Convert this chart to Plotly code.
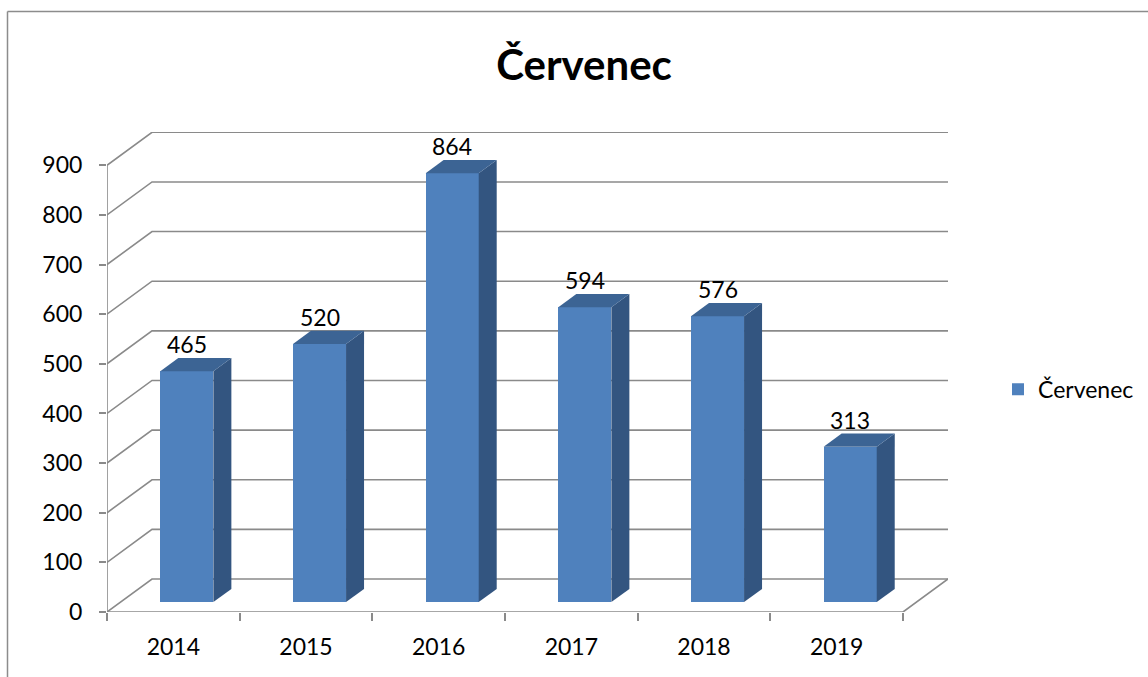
import plotly.graph_objects as go

# ---- data ----
years = ["2014", "2015", "2016", "2017", "2018", "2019"]
values = [465, 520, 864, 594, 576, 313]
series_name = "Červenec"
title_text = "Červenec"
y_ticks = [0, 100, 200, 300, 400, 500, 600, 700, 800, 900]

# ---- geometry (3D look) ----
W, H = 1148, 677
L, R, T, B = 107, 200, 132, 65
plot_w = W - L - R
plot_h = H - T - B
PX_PER_CAT = 132.67
DXu = 45 / PX_PER_CAT          # depth in category units
x_max = -0.5 + plot_w / PX_PER_CAT
Y_PX_PER_UNIT = 446.7 / 900
y_max = plot_h / Y_PX_PER_UNIT
DYu = 33 / Y_PX_PER_UNIT        # depth in value units
FRONT = 0.3                     # bar front depth fraction
DEPTH = 0.4                     # bar depth fraction
BAR_W = 0.4

FRONT_C = "#4f81bd"
TOP_C = "#3c6494"
SIDE_C = "#335580"
GRID_C = "#8a8a8a"
FONT = "Lato"

n = len(years)
xs = list(range(n))
base = FRONT * DYu
shift = FRONT * DXu

fig = go.Figure()

shapes = []
# back wall gridlines + diagonal side lines
for v in y_ticks:
    shapes.append(dict(type="path", xref="x", yref="y",
                       path=f"M {-0.5},{v} L {-0.5+DXu},{v+DYu} L {x_max},{v+DYu}",
                       line=dict(color=GRID_C, width=1.6), layer="below"))
# floor front edge and right diagonal
shapes.append(dict(type="path", xref="x", yref="y",
                   path=f"M {-0.5},0 L {n-0.5},0 L {n-0.5+DXu},{DYu}",
                   line=dict(color=GRID_C, width=1.6), layer="below"))
# y axis line
shapes.append(dict(type="line", xref="x", yref="y", x0=-0.5, x1=-0.5, y0=0, y1=y_ticks[-1],
                   line=dict(color=GRID_C, width=1.6), layer="below"))

# bar side and top faces
for i, v in enumerate(values):
    xl = i - BAR_W / 2 + shift
    xr = xl + BAR_W
    y0 = base
    y1 = base + v
    dx = DEPTH * DXu
    dy = DEPTH * DYu
    shapes.append(dict(type="path", xref="x", yref="y",
                       path=f"M {xr},{y0} L {xr},{y1} L {xr+dx},{y1+dy} L {xr+dx},{y0+dy} Z",
                       fillcolor=SIDE_C, line=dict(width=0), layer="above"))
    shapes.append(dict(type="path", xref="x", yref="y",
                       path=f"M {xl},{y1} L {xr},{y1} L {xr+dx},{y1+dy} L {xl+dx},{y1+dy} Z",
                       fillcolor=TOP_C, line=dict(width=0), layer="above"))

# outer frame
fx = (7.5 - L) / plot_w
fy = 1 + (T - 11.5) / plot_h
shapes.append(dict(type="line", xref="paper", yref="paper",
                   x0=fx, x1=fx, y0=-(B + 5) / plot_h, y1=fy,
                   line=dict(color="#8c8c8c", width=1.5)))
shapes.append(dict(type="line", xref="paper", yref="paper",
                   x0=fx, x1=(W + 5 - L) / plot_w, y0=fy, y1=fy,
                   line=dict(color="#8c8c8c", width=1.5)))

fig.add_trace(go.Bar(
    x=xs, y=values, base=base, width=BAR_W, offset=-BAR_W / 2 + shift,
    marker=dict(color=FRONT_C, line=dict(width=0)),
    name=series_name, showlegend=True, hoverinfo="skip",
))

annotations = []
for i, v in enumerate(values):
    annotations.append(dict(x=i + shift, y=base + v + DEPTH * DYu, xref="x", yref="y",
                            text=str(v), showarrow=False, yanchor="bottom",
                            font=dict(family=FONT, size=23, color="black"), yshift=-2))

fig.update_layout(
    width=W, height=H,
    margin=dict(l=L, r=R, t=T, b=B, pad=0, autoexpand=False),
    paper_bgcolor="white", plot_bgcolor="white",
    font=dict(family=FONT, size=23, color="black"),
    title=dict(text=f"<b>{title_text}</b>", x=584 / W, xanchor="center",
               y=1 - 65 / H, yanchor="middle", xref="container", yref="container",
               font=dict(family=FONT, size=42, color="black")),
    xaxis=dict(range=[-0.5, x_max], tickmode="array", tickvals=xs, ticktext=years,
               ticks="", showgrid=False, zeroline=False, showline=False,
               minor=dict(ticks="outside", tick0=-0.5, dtick=1, ticklen=8,
                          tickcolor=GRID_C, tickwidth=1.6, showgrid=False),
               ticklabelstandoff=19, fixedrange=True),
    yaxis=dict(range=[0, y_max], tickmode="array", tickvals=y_ticks,
               ticks="outside", ticklen=7, tickcolor=GRID_C, tickwidth=1.6,
               showgrid=False, zeroline=False, showline=False,
               ticklabelstandoff=12, fixedrange=True),
    shapes=shapes,
    annotations=annotations,
    legend=dict(x=(998 - L) / plot_w, y=(611.7 - 389) / plot_h, xanchor="left", yanchor="middle",
                font=dict(family=FONT, size=23), bgcolor="rgba(0,0,0,0)"),
    bargap=0,
    showlegend=True,
    hovermode=False,
)

fig.write_html("out.html", config={"displayModeBar": False},
               post_script="document.body.style.margin='0';")
